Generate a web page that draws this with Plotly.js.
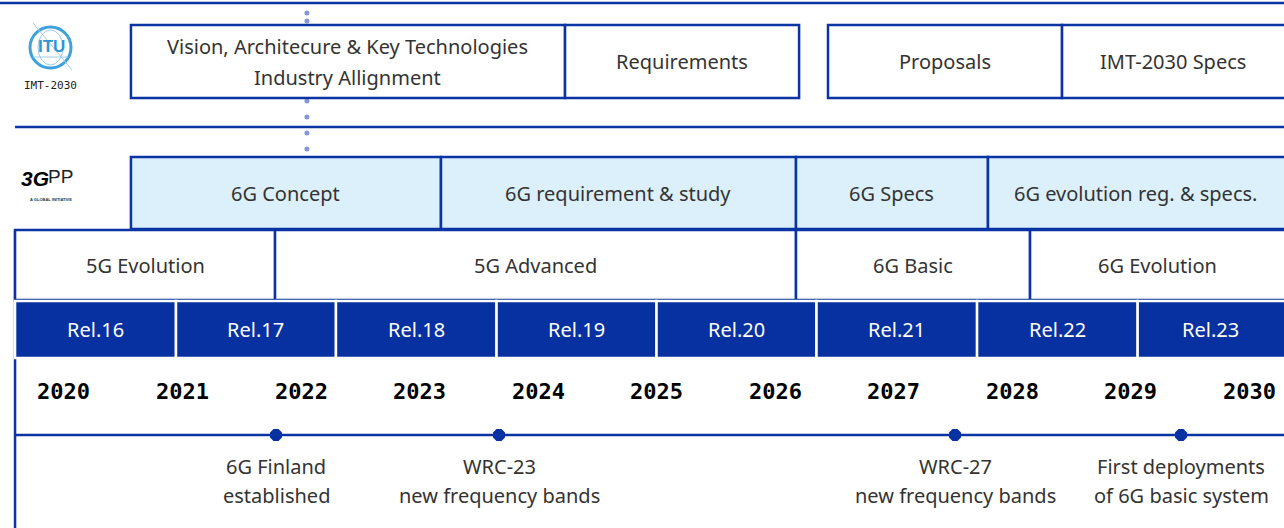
<!DOCTYPE html>
<html><head><meta charset="utf-8">
<script src="https://cdn.plot.ly/plotly-3.0.1.min.js"></script>
<style>html,body{margin:0;padding:0;background:#fff;overflow:hidden}#chart{width:1284px;height:528px}</style>
</head><body><div id="chart"></div>
<script>
// ---------------- data ----------------
const years = [2020, 2021, 2022, 2023, 2024, 2025, 2026, 2027, 2028, 2029, 2030];
const yearLabels = ["2020", "2021", "2022", "2023", "2024", "2025", "2026", "2027", "2028", "2029", "2030"];

const ituLabels = ["Vision, Architecure & Key Technologies<br>Industry Allignment", "Requirements", "Proposals", "IMT-2030 Specs"];
const ituStart = [2020.565, 2024.228, 2026.447, 2028.422];
const ituEnd = [2024.228, 2026.203, 2028.422, 2030.6];

const gppLabels = ["6G Concept", "6G requirement & study", "6G Specs", "6G evolution reg. & specs."];
const gppStart = [2020.565, 2023.181, 2026.177, 2027.797];
const gppEnd = [2023.181, 2026.177, 2027.797, 2030.6];

const phaseLabels = ["5G Evolution", "5G Advanced", "6G Basic", "6G Evolution"];
const phaseStart = [2019.587, 2021.781, 2026.177, 2028.152];
const phaseEnd = [2021.781, 2026.177, 2028.152, 2030.6];

const releaseLabels = ["Rel.16", "Rel.17", "Rel.18", "Rel.19", "Rel.20", "Rel.21", "Rel.22", "Rel.23"];
const releaseStart = [2019.587, 2020.945, 2022.295, 2023.65, 2025.0, 2026.35, 2027.705, 2029.06];
const releaseEnd = [2020.945, 2022.295, 2023.65, 2025.0, 2026.35, 2027.705, 2029.06, 2030.6];

const milestoneLabels = ["6G Finland<br>established", "WRC-23<br>new frequency bands", "WRC-27<br>new frequency bands", "First deployments<br>of 6G basic system"];
const milestoneDates = [2021.789, 2023.671, 2027.519, 2029.426];

const ituMarkerDate = 2022.05;
const timelineStart = 2019.587;

// ---------------- layout config (positions / styles) ----------------
const X_RANGE = [2019.46, 2030.295];
const ROW = {
  topLine: 3,
  itu: [25, 98],
  sep: 127,
  gpp: [157, 229],
  phase: [230, 300],
  rel: [301, 358],
  years: 391,
  timeline: 435,
  msLine1: 466,
  msLine2: 495,
  bottom: 528
};
const BLUE = "#0a33a3";
const DARK = "#0731a0";
const LIGHT = "#dcf0fb";
const TXT = "#333333";
const FONT = "Noto Sans, sans-serif";

const shapes = [];
const annotations = [];

function addText(x, y, text, opts) {
  const lines = text.split("<br>");
  const gap = opts.gap || 30;
  const y0 = y - gap * (lines.length - 1) / 2;
  lines.forEach((ln, i) => {
    annotations.push({
      x: x, y: y0 + gap * i, xref: "x", yref: "y", text: ln, showarrow: false,
      xanchor: "center", yanchor: "middle",
      font: {family: opts.family || FONT, size: opts.size || 20, color: opts.color || TXT, weight: opts.weight || 400}
    });
  });
}
function visCenter(a, b) { return (a + Math.min(b, X_RANGE[1])) / 2; }

function addBoxes(labels, starts, ends, band, fill, lineColor, lineW, textColor) {
  labels.forEach((lab, i) => {
    shapes.push({type: "rect", xref: "x", yref: "y", x0: starts[i], x1: ends[i], y0: band[0], y1: band[1],
      fillcolor: fill, line: {color: lineColor, width: lineW}, layer: "above"});
  });
  labels.forEach((lab, i) => {
    addText(visCenter(starts[i], ends[i]), (band[0] + band[1]) / 2, lab, {color: textColor, gap: 31});
  });
}

// frame lines
shapes.push({type: "line", xref: "paper", yref: "y", x0: 0, x1: 1, y0: ROW.topLine, y1: ROW.topLine, line: {color: BLUE, width: 2.5}, layer: "above"});
shapes.push({type: "line", xref: "x", yref: "y", x0: timelineStart, x1: X_RANGE[1] + 1, y0: ROW.sep, y1: ROW.sep, line: {color: BLUE, width: 2.5}, layer: "above"});
shapes.push({type: "line", xref: "x", yref: "y", x0: timelineStart, x1: timelineStart, y0: ROW.phase[0], y1: ROW.bottom + 5, line: {color: BLUE, width: 2.5}, layer: "above"});
shapes.push({type: "line", xref: "x", yref: "y", x0: timelineStart, x1: X_RANGE[1] + 1, y0: ROW.timeline, y1: ROW.timeline, line: {color: BLUE, width: 2.5}, layer: "above"});

addBoxes(ituLabels, ituStart, ituEnd, ROW.itu, "#ffffff", BLUE, 2.5, TXT);
addBoxes(gppLabels, gppStart, gppEnd, ROW.gpp, LIGHT, BLUE, 2.5, TXT);
addBoxes(phaseLabels, phaseStart, phaseEnd, ROW.phase, "#ffffff", BLUE, 2.5, TXT);
addBoxes(releaseLabels, releaseStart, releaseEnd, ROW.rel, DARK, "#ffffff", 2.5, "#ffffff");

years.forEach((yr, i) => addText(yr, ROW.years, yearLabels[i], {family: "DejaVu Sans Mono, monospace", size: 22, color: "#000", weight: 700}));
milestoneLabels.forEach((lab, i) => {
  const lines = lab.split("<br>");
  addText(milestoneDates[i], ROW.msLine1, lines[0], {});
  addText(milestoneDates[i], ROW.msLine2, lines[1], {});
});

// logos (approximate, paper coords)
const P = v => v / 1284;
function logoText(x, y, text, font) {
  annotations.push({x: P(x), y: y, xref: "paper", yref: "y", text: text, showarrow: false,
    xanchor: "center", yanchor: "middle", font: font});
}
shapes.push({type: "circle", xref: "paper", yref: "y", x0: P(30), x1: P(71), y0: 27, y1: 68, line: {color: "#3ea0dc", width: 3}, fillcolor: "rgba(0,0,0,0)", layer: "above"});
shapes.push({type: "circle", xref: "paper", yref: "y", x0: P(38), x1: P(63), y0: 30, y1: 65, line: {color: "#9ccdee", width: 1}, fillcolor: "rgba(0,0,0,0)", layer: "above"});
shapes.push({type: "line", xref: "paper", yref: "y", x0: P(33), x1: P(72), y0: 23, y1: 70, line: {color: "#9ccdee", width: 1}, layer: "above"});
shapes.push({type: "line", xref: "paper", yref: "y", x0: P(33), x1: P(68), y0: 57, y1: 57, line: {color: "#9ccdee", width: 1}, layer: "above"});
logoText(51, 46, "<b>ITU</b>", {family: "Liberation Sans, sans-serif", size: 17, color: "#2f95d6"});
logoText(50, 85, "IMT-2030", {family: "DejaVu Sans Mono, monospace", size: 11, color: "#222"});
logoText(35, 178, "<b><i>3G</i></b>", {family: "Liberation Sans, sans-serif", size: 21, color: "#000"});
logoText(60, 176, "PP", {family: "Liberation Sans, sans-serif", size: 19, color: "#222"});
logoText(51, 199, "<b>A GLOBAL INITIATIVE</b>", {family: "Liberation Sans, sans-serif", size: 4, color: "#333"});

// dotted marker line for ITU
const dotY = [13];
for (let k = 0; k < 9; k++) dotY.push(149 - 16 * k);
const traces = [
  {type: "scatter", mode: "markers", x: dotY.map(() => ituMarkerDate), y: dotY,
   marker: {color: "#8497d8", size: 5}, hoverinfo: "skip", showlegend: false},
  {type: "scatter", mode: "markers", x: milestoneDates, y: milestoneDates.map(() => ROW.timeline),
   marker: {color: DARK, size: 13, symbol: "octagon"}, hoverinfo: "skip", showlegend: false, cliponaxis: false}
];

const layout = {
  width: 1284, height: 528,
  margin: {l: 0, r: 0, t: 0, b: 0, pad: 0},
  paper_bgcolor: "#ffffff", plot_bgcolor: "#ffffff",
  showlegend: false,
  xaxis: {range: X_RANGE, visible: false, fixedrange: true},
  yaxis: {range: [ROW.bottom, 0], visible: false, fixedrange: true},
  shapes: shapes,
  annotations: annotations
};
Plotly.newPlot("chart", traces, layout, {staticPlot: true, displayModeBar: false});
</script>
</body></html>
